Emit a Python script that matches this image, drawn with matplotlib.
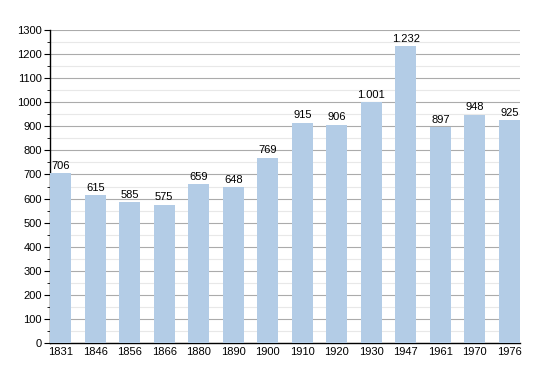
import matplotlib
matplotlib.use("Agg")
import matplotlib.pyplot as plt
from matplotlib.ticker import MultipleLocator

years = ["1831", "1846", "1856", "1866", "1880", "1890", "1900",
         "1910", "1920", "1930", "1947", "1961", "1970", "1976"]
population = [706, 615, 585, 575, 659, 648, 769,
              915, 906, 1001, 1232, 897, 948, 925]
labels = ["706", "615", "585", "575", "659", "648", "769",
          "915", "906", "1.001", "1.232", "897", "948", "925"]

plt.rcParams["font.family"] = ["Liberation Sans", "DejaVu Sans"]

fig = plt.figure(figsize=(5.5, 3.73), dpi=100)
ax = fig.add_axes([50 / 550, 30 / 373, 470 / 550, 313 / 373])

x = range(len(years))
ax.bar(x, population, width=0.6, color="#b3cce6", zorder=3)
for i, v in enumerate(population):
    ax.text(i, v + 10, labels[i], ha="center", va="bottom", fontsize=8, zorder=4)

ax.set_xlim(-0.31, 13.31)
ax.set_ylim(0, 1300)
ax.set_xticks(list(x))
ax.set_xticklabels(years)
ax.yaxis.set_major_locator(MultipleLocator(100))
ax.yaxis.set_minor_locator(MultipleLocator(50))
ax.grid(axis="y", which="major", color="#ababab", linewidth=0.8, zorder=0)
ax.grid(axis="y", which="minor", color="#e8e8e8", linewidth=0.8, zorder=0)
ax.tick_params(axis="x", length=0, labelsize=8, pad=3)
ax.tick_params(axis="y", which="major", length=4, labelsize=8, pad=2)
ax.tick_params(axis="y", which="minor", length=2)
for s in ["top", "right"]:
    ax.spines[s].set_visible(False)
ax.spines["left"].set_linewidth(1)
ax.spines["bottom"].set_linewidth(1)

fig.savefig("out.png")
